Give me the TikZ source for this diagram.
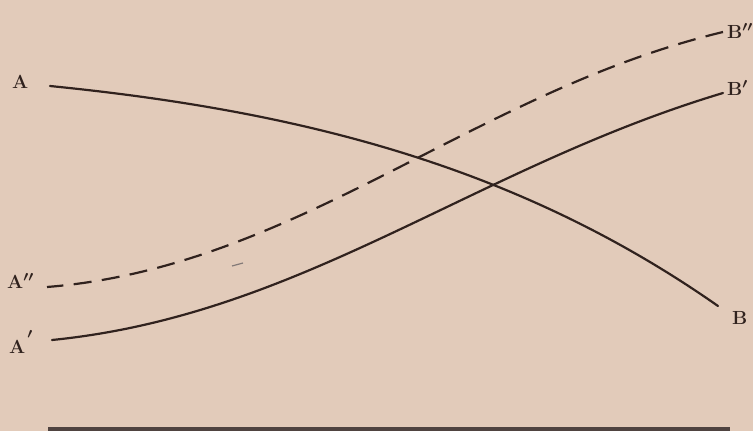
\documentclass[tikz,border=0pt]{standalone}
\definecolor{paper}{RGB}{226,203,186}
\definecolor{ink}{RGB}{48,34,30}
\begin{document}
\begin{tikzpicture}[x=1pt,y=-1pt,
  curve/.style={line width=2.2pt, draw=ink, line cap=round},
  dashcurve/.style={curve, line cap=butt, dash pattern=on 18pt off 10.4pt},
  lab/.style={font=\fontsize{19}{21}\selectfont\bfseries\boldmath, text=ink, inner sep=0pt, anchor=base west}]
\fill[paper] (0,0) rectangle (753,431);
\useasboundingbox (0,0) rectangle (753,431);
% labels
\node[lab] (lA)  at (12,88)  {A};
\node[lab] (lA2) at (7,288)  {A$''$};
\node[lab] (lA1) at (9,353) {A\hspace{2pt}\raisebox{8pt}{$'$}};
\node[lab] (lB2) at (727,38) {B$''$};
\node[lab] (lB1) at (727,95) {B$'$};
\node[lab] (lB)  at (732,324) {B};
% curve end points
\coordinate (a)  at (50,86);
\coordinate (b)  at (718,306);
\coordinate (a2) at (47,287);
\coordinate (b2) at (723,32);
\coordinate (a1) at (52,340);
\coordinate (b1) at (723,93);
% curves
\draw[curve] (a) .. controls (300,111) and (518,166) .. (b);
\draw[dashcurve] (b2) .. controls (473,92) and (297,267) .. (a2);
\draw[curve] (a1) .. controls (302,315) and (473,168) .. (b1);
% small stray mark
\draw[ink!60, line width=1.2pt] (232,266) -- (243,263);
% bottom rule
\fill[ink!85] (48,427) rectangle (730,431);
\end{tikzpicture}
\end{document}
